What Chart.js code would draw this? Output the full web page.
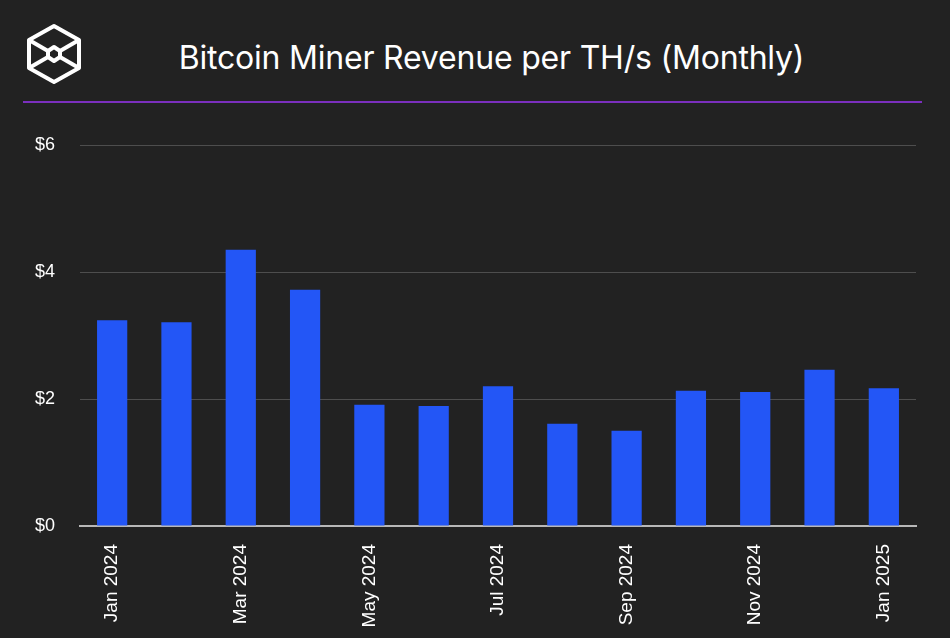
<!DOCTYPE html>
<html>
<head>
<meta charset="utf-8">
<script src="https://cdn.jsdelivr.net/npm/chart.js@4"></script>
<style>
  html, body { margin: 0; padding: 0; background: #222222; }
  #wrap { position: relative; width: 950px; height: 638px; overflow: hidden; }
  #logo { position: absolute; left: 22px; top: 22px; }
  #title { position: absolute; left: 0; top: 38px; width: 983px; text-align: center;
           font-family: Inter, "Noto Sans", sans-serif; font-size: 32px; color: #ffffff; letter-spacing: -0.2px; }
  #rule { position: absolute; left: 23px; top: 101px; width: 899px; height: 2px; background: #7b2fbe; }
  #chartBox { position: absolute; left: 0; top: 0; width: 950px; height: 638px; }
</style>
</head>
<body>
<div id="wrap">
  <svg id="logo" width="64" height="64" viewBox="0 0 64 64">
    <g fill="none" stroke="#ffffff" stroke-width="4" stroke-linejoin="round">
      <polygon points="32,4 57,18 57,46 32,60 7,46 7,18"/>
      <polygon points="32,25 38,29 38,35 32,39 26,35 26,29"/>
      <line x1="7" y1="18" x2="26" y2="29"/>
      <line x1="57" y1="18" x2="38" y2="29"/>
      <line x1="7" y1="46" x2="26" y2="35"/>
      <line x1="57" y1="46" x2="38" y2="35"/>
    </g>
  </svg>
  <div id="title">Bitcoin Miner Revenue per TH/s (Monthly)</div>
  <div id="rule"></div>
  <div id="chartBox"><canvas id="revChart"></canvas></div>
</div>
<script>
const months = ['Jan 2024', 'Feb 2024', 'Mar 2024', 'Apr 2024', 'May 2024', 'Jun 2024', 'Jul 2024',
                'Aug 2024', 'Sep 2024', 'Oct 2024', 'Nov 2024', 'Dec 2024', 'Jan 2025'];
const revenue = [3.24, 3.21, 4.35, 3.72, 1.91, 1.89, 2.20, 1.61, 1.50, 2.13, 2.11, 2.46, 2.17];  // USD per TH/s
const yTicks = [0, 2, 4, 6];

document.addEventListener('DOMContentLoaded', function () {
    const ctx = document.getElementById('revChart').getContext('2d');
    new Chart(ctx, {
        type: 'bar',
        data: {
            labels: months,
            datasets: [{
                label: 'Revenue per TH/s',
                data: revenue,
                backgroundColor: '#2356f6',
                borderWidth: 0,
                barPercentage: 1,
                categoryPercentage: 0.47
            }]
        },
        options: {
            responsive: true,
            maintainAspectRatio: false,
            animation: false,
            layout: { padding: { top: 145, right: 34, bottom: 0, left: 0 } },
            plugins: { legend: { display: false }, tooltip: { enabled: false } },
            scales: {
                x: {
                    grid: { display: false, drawTicks: false },
                    border: { display: true, color: '#b8b8b8', width: 2 },
                    afterFit: function (scale) { scale.height = 112; },
                    ticks: {
                        color: '#ffffff',
                        font: { family: '"Liberation Sans", Arial, sans-serif', size: 19 },
                        padding: 18,
                        autoSkip: false,
                        minRotation: 90,
                        maxRotation: 90,
                        callback: function (value, index) {
                            return index % 2 === 0 ? months[index] : '';
                        }
                    }
                },
                y: {
                    min: 0,
                    max: 6,
                    afterFit: function (scale) { scale.width = 80; },
                    afterBuildTicks: function (scale) {
                        scale.ticks = yTicks.map(v => ({ value: v }));
                    },
                    grid: { color: '#4e4e4e', lineWidth: 1, drawTicks: false },
                    border: { display: false },
                    ticks: {
                        color: '#ffffff',
                        font: { family: '"Liberation Sans", Arial, sans-serif', size: 18 },
                        padding: 25,
                        callback: function (value) { return '$' + value; }
                    }
                }
            }
        }
    });
});
</script>
</body>
</html>
